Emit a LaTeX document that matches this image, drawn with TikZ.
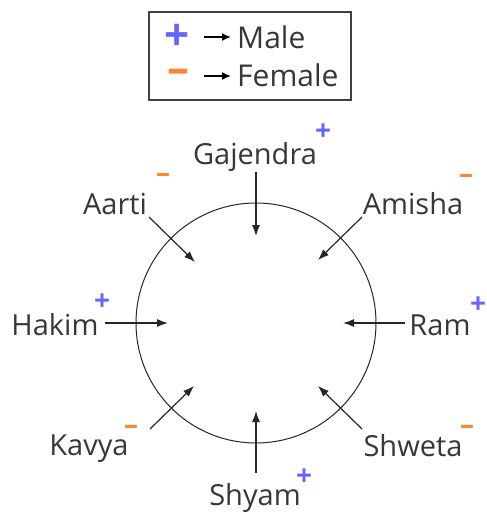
\documentclass[tikz,border=0pt]{standalone}
\usepackage{fontspec}
\setmainfont{Open Sans}
\usetikzlibrary{arrows.meta}

\definecolor{malecol}{RGB}{100,100,255}
\definecolor{femcol}{RGB}{245,135,55}
\definecolor{txtcol}{RGB}{55,55,55}

\begin{document}
\begin{tikzpicture}[x=1pt,y=-1pt,
  name node/.style={anchor=base,inner sep=0pt,text=txtcol,font=\fontsize{29}{29}\selectfont},
  male node/.style={inner sep=0pt,text=malecol,font=\fontsize{28}{28}\selectfont\bfseries},
  female node/.style={inner sep=0pt,text=femcol,font=\fontsize{28}{28}\selectfont\bfseries},
  seat arrow/.style={-{Latex[length=11pt,width=8pt]},line width=1.2pt,color=black!85}]

\useasboundingbox (0,0) rectangle (487,512);

% legend
\node[draw=black!75,line width=1.2pt,minimum width=202pt,minimum height=88pt] (key) at (250,56) {};
\node[male node,font=\fontsize{44}{44}\selectfont\bfseries] (kp) at (177,37) {+};
\node[female node,font=\fontsize{44}{44}\selectfont\bfseries] (km) at (178,76) {–};
\coordinate (kpa) at (204,37);
\coordinate (kpb) at (231,37);
\coordinate (kma) at (204,76);
\coordinate (kmb) at (231,76);
\path[] (kpa) [-{Latex[length=9pt,width=8pt]},line width=1.6pt] edge node [] {} (kpb);
\path[] (kma) [-{Latex[length=9pt,width=8pt]},line width=1.6pt] edge node [] {} (kmb);
\node[name node,anchor=base west,font=\fontsize{30}{30}\selectfont] (kmale) at (237,48) {Male};
\node[name node,anchor=base west,font=\fontsize{30}{30}\selectfont] (kfemale) at (237,86) {Female};

% table
\node[draw=black!85,line width=1pt,circle,minimum size=240pt,inner sep=0pt] (table) at (256,323) {};

% people
\node[name node] (gajendra) at (255,164) {Gajendra};
\node[name node] (aarti) at (115,214) {Aarti};
\node[name node] (amisha) at (413,214) {Amisha};
\node[name node] (hakim) at (55,335) {Hakim};
\node[name node] (ram) at (440,335) {Ram};
\node[name node] (kavya) at (89,455) {Kavya};
\node[name node] (shweta) at (413,456) {Shweta};
\node[name node] (shyam) at (255,505) {Shyam};

% genders
\node[male node] (gajendra s) at (323,132) {+};
\node[female node] (aarti s) at (163,178) {–};
\node[female node] (amisha s) at (466,179) {–};
\node[male node] (hakim s) at (102,302) {+};
\node[male node] (ram s) at (478,305) {+};
\node[female node] (kavya s) at (131,430) {–};
\node[female node] (shweta s) at (467,430) {–};
\node[male node] (shyam s) at (304,477) {+};

% seat arrows
\coordinate (g0) at (256,172);
\coordinate (g1) at (256,236);
\coordinate (a0) at (149,217);
\coordinate (a1) at (195,262);
\coordinate (m0) at (362,217);
\coordinate (m1) at (318,260);
\coordinate (h0) at (105,323);
\coordinate (h1) at (168,323);
\coordinate (r0) at (405,323);
\coordinate (r1) at (343,323);
\coordinate (k0) at (150,429);
\coordinate (k1) at (194,386);
\coordinate (w0) at (362,429);
\coordinate (w1) at (318,386);
\coordinate (s0) at (256,473);
\coordinate (s1) at (256,411);

\path[] (g0) [seat arrow] edge node [] {} (g1);
\path[] (a0) [seat arrow] edge node [] {} (a1);
\path[] (m0) [seat arrow] edge node [] {} (m1);
\path[] (h0) [seat arrow] edge node [] {} (h1);
\path[] (r0) [seat arrow] edge node [] {} (r1);
\path[] (k0) [seat arrow] edge node [] {} (k1);
\path[] (w0) [seat arrow] edge node [] {} (w1);
\path[] (s0) [seat arrow] edge node [] {} (s1);

\end{tikzpicture}
\end{document}
